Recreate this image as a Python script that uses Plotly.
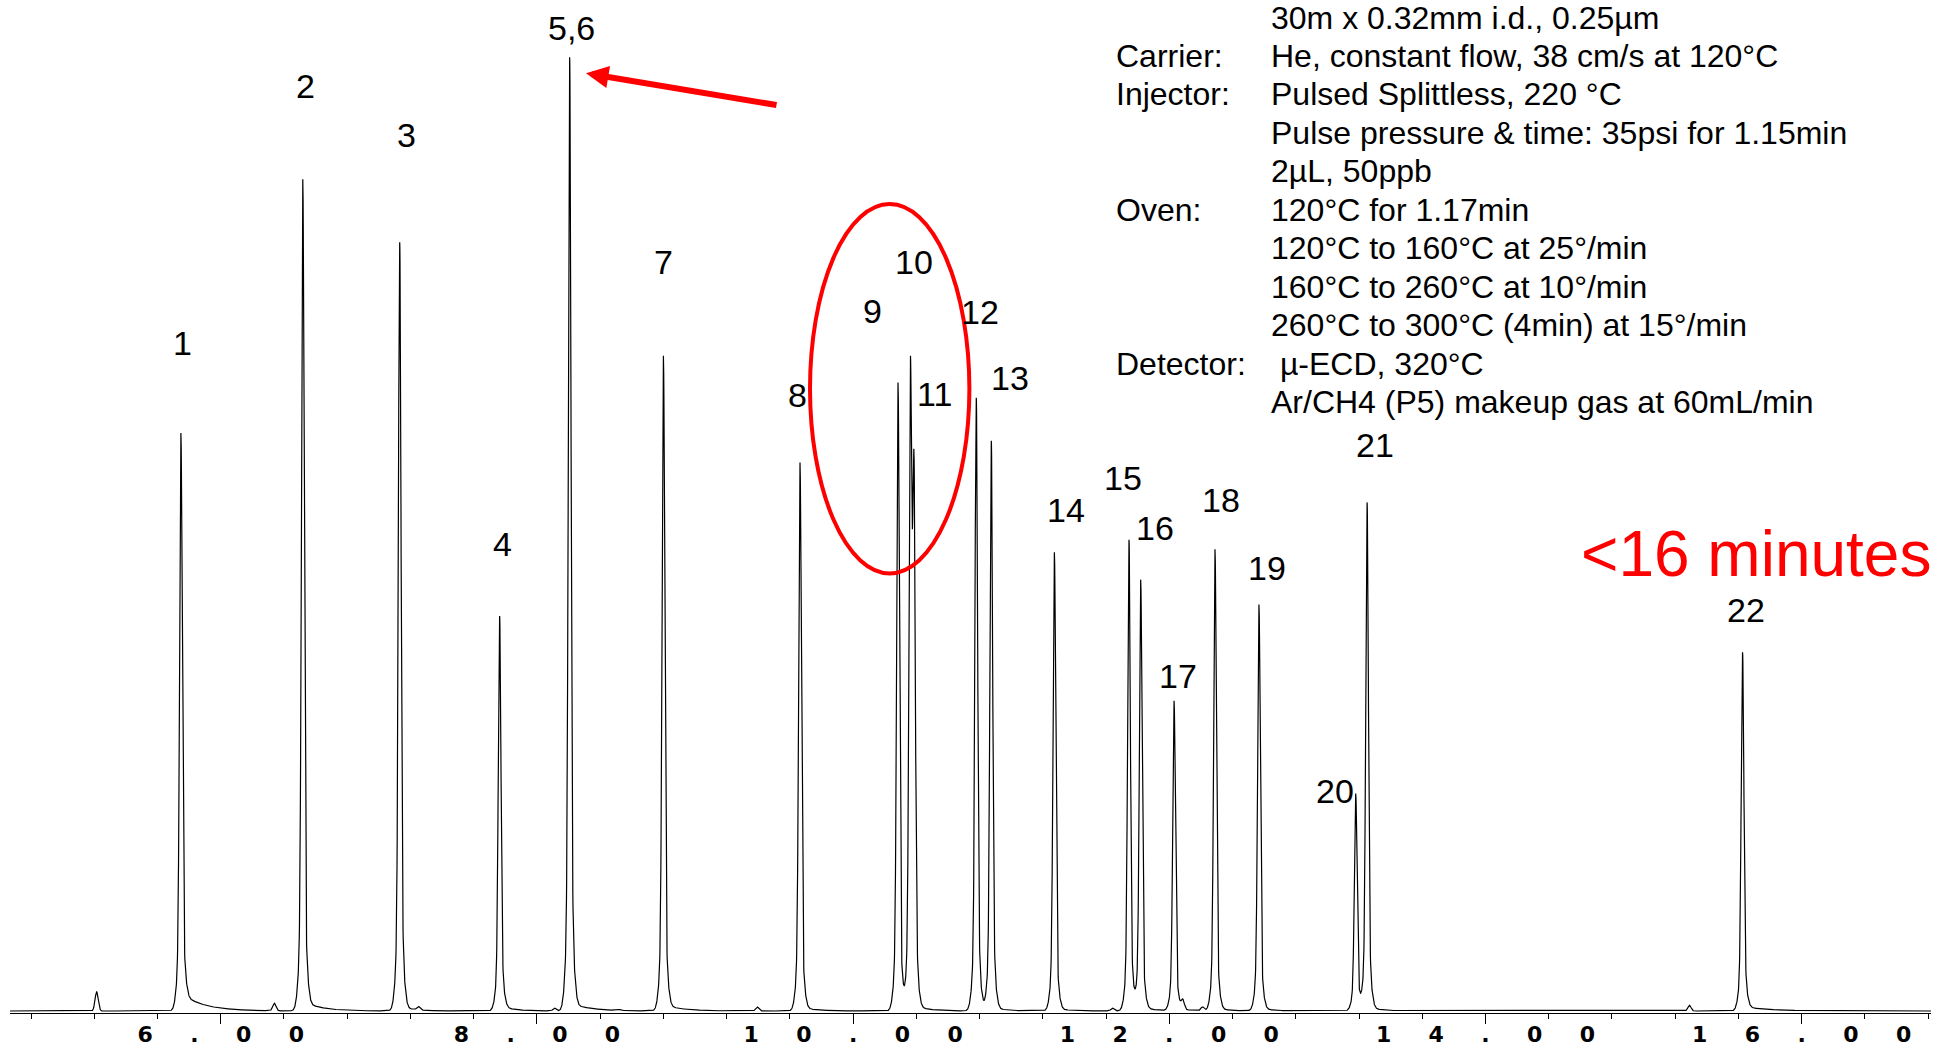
import numpy as np
import plotly.graph_objects as go

# ---------------- values ----------------
peak_names = ["1", "2", "3", "4", "5,6", "7", "8", "9", "10", "11", "12",
              "13", "14", "15", "16", "17", "18", "19", "20", "21", "22"]
# retention time (min)
peak_rt = [5.748, 6.519, 7.132, 7.764, 8.207, 8.800, 9.664, 10.284, 10.362,
           10.385, 10.779, 10.874, 11.273, 11.745, 11.819, 12.030, 12.289,
           12.567, 13.179, 13.251, 15.626]
# peak response (% of the tallest peak, 5,6)
peak_height = [60.6, 87.2, 80.6, 41.4, 100.0, 68.7, 57.5, 65.9, 64.2, 53.2,
               64.3, 59.7, 48.1, 49.4, 45.1, 32.5, 48.4, 42.6, 22.8, 53.2, 37.6]
# tailing read at the foot of each peak (% response) and its decay (min)
peak_tail = [1.9, 1.05, 0.5, 0.6, 0.83, 0.68, 0.4, 0.3, 0.3, 0.3, 0.3,
             0.3, 0.3, 0.3, 0.3, 0.3, 0.3, 0.3, 0.3, 0.3, 0.5]
peak_tail_len = [0.137, 0.11, 0.08, 0.076, 0.124, 0.11, 0.10, 0.08, 0.08, 0.08,
                 0.08, 0.08, 0.08, 0.08, 0.08, 0.08, 0.08, 0.08, 0.08, 0.08, 0.15]

# small unlabelled peaks
minor_rt = [5.215, 6.339, 7.250, 8.110, 8.515, 9.393, 11.640, 12.085, 12.210, 15.290]
minor_height = [2.0, 0.8, 0.37, 0.3, 0.1, 0.42, 0.3, 1.0, 0.4, 0.6]

tick_values = [6, 8, 10, 12, 14, 16]
tick_labels = ["6.00", "8.00", "10.00", "12.00", "14.00", "16.00"]

method_keys = ["", "Carrier:", "Injector:", "", "", "Oven:", "", "", "",
               "Detector:", ""]
method_values = [
    "30m x 0.32mm i.d., 0.25\u00b5m",
    "He, constant flow, 38 cm/s at 120\u00b0C",
    "Pulsed Splittless, 220 \u00b0C",
    "Pulse pressure &amp; time: 35psi for 1.15min",
    "2\u00b5L, 50ppb",
    "120\u00b0C for 1.17min",
    "120\u00b0C to 160\u00b0C at 25\u00b0/min",
    "160\u00b0C to 260\u00b0C at 10\u00b0/min",
    "260\u00b0C to 300\u00b0C (4min) at 15\u00b0/min",
    "\u00a0\u00b5-ECD, 320\u00b0C",
    "Ar/CH4 (P5) makeup gas at 60mL/min",
]
run_time_note = "&lt;16 minutes"

# ---------------- layout / style ----------------
W, H = 1939, 1047
M_L, M_R, M_T, M_B = 10, 8, 0, 34
PW, PH = W - M_L - M_R, H - M_T - M_B
X_RANGE = [4.667, 16.818]
Y_RANGE = [-0.21, 106.0]
SIG_NARROW, SIG_WIDE, WIDE_FRAC = 0.0082, 0.0202, 0.12
TAIL_ONSET = 0.012
MINOR_SIG = 0.010
RED = "#ff0000"
FONT = "Liberation Sans, Arial, sans-serif"


def px_t(px):
    return X_RANGE[0] + (px - M_L) / PW * (X_RANGE[1] - X_RANGE[0])


def py_s(py):
    return Y_RANGE[1] - (py - M_T) / PH * (Y_RANGE[1] - Y_RANGE[0])


def paper_x(px):
    return (px - M_L) / PW


def paper_y(py):
    return 1 - (py - M_T) / PH


# ---------------- trace built from the peak table ----------------
t = np.arange(X_RANGE[0], X_RANGE[1], 0.001)
signal = np.zeros_like(t)
for rt, h, th, tl in zip(peak_rt, peak_height, peak_tail, peak_tail_len):
    d = t - rt
    signal += h * ((1 - WIDE_FRAC) * np.exp(-0.5 * (d / SIG_NARROW) ** 2)
                   + WIDE_FRAC * np.exp(-0.5 * (d / SIG_WIDE) ** 2))
    dp = np.clip(d, 0, None)
    signal += th * (1 - np.exp(-(dp / TAIL_ONSET) ** 2)) * np.exp(-dp / tl)
for rt, h in zip(minor_rt, minor_height):
    signal += h * np.exp(-0.5 * ((t - rt) / MINOR_SIG) ** 2)

fig = go.Figure()
fig.add_trace(go.Scatter(x=t, y=signal, mode="lines",
                         line=dict(color="black", width=1.2),
                         hoverinfo="skip", showlegend=False))

# label anchor = visible apex of each peak (% response)
label_y = [60.6, 87.2, 80.6, 41.4, 100.0, 68.7, 57.5, 65.9, 68.4, 58.4,
           64.3, 59.7, 48.1, 49.4, 45.1, 32.5, 48.4, 42.6, 22.8, 53.2, 37.6]
# peak labels: offset (px) of label centre from the apex
label_offsets = [(2, 90), (3, 93), (7, 107), (3, 72), (2, 29), (0, 94), (-3, 68),
                 (-26, 71), (4, 97), (21, 60), (4, 86), (19, 64), (12, 42),
                 (-6, 62), (14, 53), (4, 25), (6, 49), (8, 37), (-21, 3),
                 (8, 59), (3, 42)]
annotations = []
for name, rt, h, (dx, dy) in zip(peak_names, peak_rt, label_y, label_offsets):
    annotations.append(dict(x=rt, y=h, xref="x", yref="y", text=name,
                            showarrow=False, xshift=dx, yshift=dy,
                            xanchor="center", yanchor="middle",
                            font=dict(family=FONT, size=34, color="black")))

# method text block
LINE0, LINE_STEP = 17.5, 38.45
TXT = 32
for i, (k, v) in enumerate(zip(method_keys, method_values)):
    yy = paper_y(LINE0 + i * LINE_STEP)
    if k:
        annotations.append(dict(x=paper_x(1116), y=yy, xref="paper", yref="paper",
                                text=k, showarrow=False, xanchor="left",
                                yanchor="middle", borderpad=0, borderwidth=0,
                                font=dict(family=FONT, size=TXT, color="black")))
    annotations.append(dict(x=paper_x(1271), y=yy, xref="paper", yref="paper",
                            text=v, showarrow=False, xanchor="left",
                            yanchor="middle", borderpad=0, borderwidth=0,
                            font=dict(family=FONT, size=TXT, color="black")))

# red run-time note
annotations.append(dict(x=paper_x(1756), y=paper_y(554), xref="paper", yref="paper",
                        text=run_time_note, showarrow=False, xanchor="center",
                        yanchor="middle",
                        font=dict(family=FONT, size=64, color=RED)))

# red arrow pointing at peak 5,6
annotations.append(dict(x=px_t(586), y=py_s(73.3), xref="x", yref="y", text="",
                        showarrow=True, ax=192, ay=32, axref="pixel", ayref="pixel",
                        arrowhead=2, arrowsize=0.75, arrowwidth=6,
                        arrowcolor=RED, standoff=0, startstandoff=0))

shapes = [dict(type="circle", xref="x", yref="y",
               x0=px_t(810), x1=px_t(969.4), y0=py_s(573.4), y1=py_s(204),
               line=dict(color=RED, width=4))]

tick_text = ["\u2003\u2002\u2009".join(list(s)) for s in tick_labels]

fig.update_layout(
    width=W, height=H, autosize=False,
    margin=dict(l=M_L, r=M_R, t=M_T, b=M_B, pad=0, autoexpand=False),
    paper_bgcolor="white", plot_bgcolor="white",
    annotations=annotations, shapes=shapes,
    xaxis=dict(range=X_RANGE, showgrid=False, zeroline=False, automargin=False,
               showline=True, linecolor="black", linewidth=1,
               tickmode="array", tickvals=tick_values, ticktext=tick_text,
               ticks="outside", ticklen=10, tickwidth=1, tickcolor="black",
               ticklabelstandoff=-8,
               tickfont=dict(family="DejaVu Sans", size=22, color="black",
                             weight="bold"),
               minor=dict(tickmode="linear", tick0=6, dtick=0.4,
                          ticks="outside", ticklen=5, tickwidth=1,
                          tickcolor="black", showgrid=False),
               fixedrange=True),
    yaxis=dict(range=Y_RANGE, visible=False, showgrid=False, zeroline=False,
               automargin=False, fixedrange=True),
)

fig.write_html("out.html")
